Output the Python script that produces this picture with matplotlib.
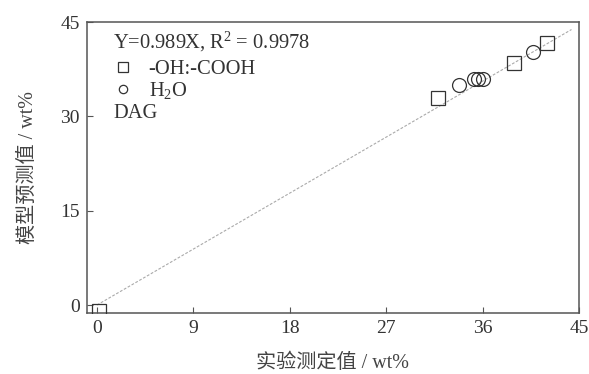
import numpy as np
import matplotlib
matplotlib.use('Agg')
import matplotlib.pyplot as plt
from matplotlib.lines import Line2D

plt.rcParams['font.family'] = ['Liberation Serif', 'Noto Sans CJK SC']
plt.rcParams['mathtext.fontset'] = 'custom'
plt.rcParams['mathtext.rm'] = 'Liberation Serif'
plt.rcParams['mathtext.it'] = 'Liberation Serif:italic'

# experimental vs. model predicted contents (wt%)
cooh_exp = [0.2, 31.8, 38.9, 42.0]
cooh_pred = [-1.0, 32.9, 38.5, 41.7]
h2o_exp = [33.8, 35.2, 35.6, 36.0, 40.7]
h2o_pred = [35.0, 35.9, 36.0, 35.9, 40.2]
slope = 0.989
fit_x = [0, 44.3]
ticks_x = [0, 9, 18, 27, 36, 45]
ticks_y = [0, 15, 30, 45]

txt = '#333333'
edge = '#555555'

fig = plt.figure(figsize=(5.89, 3.74), dpi=100)
ax = fig.add_axes([0.1477, 0.163, 0.8353, 0.778])

ax.plot(fit_x, [slope * v for v in fit_x], color='#aaaaaa', lw=0.8,
        linestyle=(0, (2.5, 1.5)), zorder=1)
ax.plot(cooh_exp, cooh_pred, 's', ms=9.5, mfc='none', mec='#333333', mew=0.9, zorder=3)
ax.plot(h2o_exp, h2o_pred, 'o', ms=10, mfc='none', mec='#333333', mew=0.9, zorder=3)

ax.set_xlim(-0.93, 45)
ax.set_ylim(-1.27, 45)
ax.set_xticks(ticks_x)
ax.set_yticks(ticks_y)
ax.tick_params(direction='in', length=4, width=0.8, colors=edge, labelcolor=txt,
               labelsize=14)
ax.tick_params(axis='y', pad=5)
ax.tick_params(axis='x', pad=5)
for s in ax.spines.values():
    s.set_color(edge)
    s.set_linewidth(1.1)

ax.set_xlabel('实验测定值 / wt%', fontsize=14.5, color='#444444', labelpad=12)
ax.set_ylabel('模型预测值 / wt%', fontsize=14.5, color='#444444', labelpad=16)

ax.text(0.053, 0.93, 'Y=0.989X, R$^2$ = 0.9978', transform=ax.transAxes,
        fontsize=14.8, color=txt, va='center', ha='left')
ax.text(0.053, 0.685, 'DAG', transform=ax.transAxes,
        fontsize=14.8, color=txt, va='center', ha='left')

handles = [Line2D([], [], marker='s', ms=7, mfc='none', mec='#333333', mew=0.9, ls='none'),
           Line2D([], [], marker='o', ms=6, mfc='none', mec='#333333', mew=0.9, ls='none')]
ax.legend(handles, ['-OH:-COOH', 'H$_2$O'], loc='upper left',
          bbox_to_anchor=(0.052, 0.872), frameon=False, fontsize=14.8,
          handlelength=1.0, handletextpad=0.75, borderpad=0, borderaxespad=0,
          labelspacing=0.05, labelcolor=txt)

fig.savefig('out.png', dpi=100)
